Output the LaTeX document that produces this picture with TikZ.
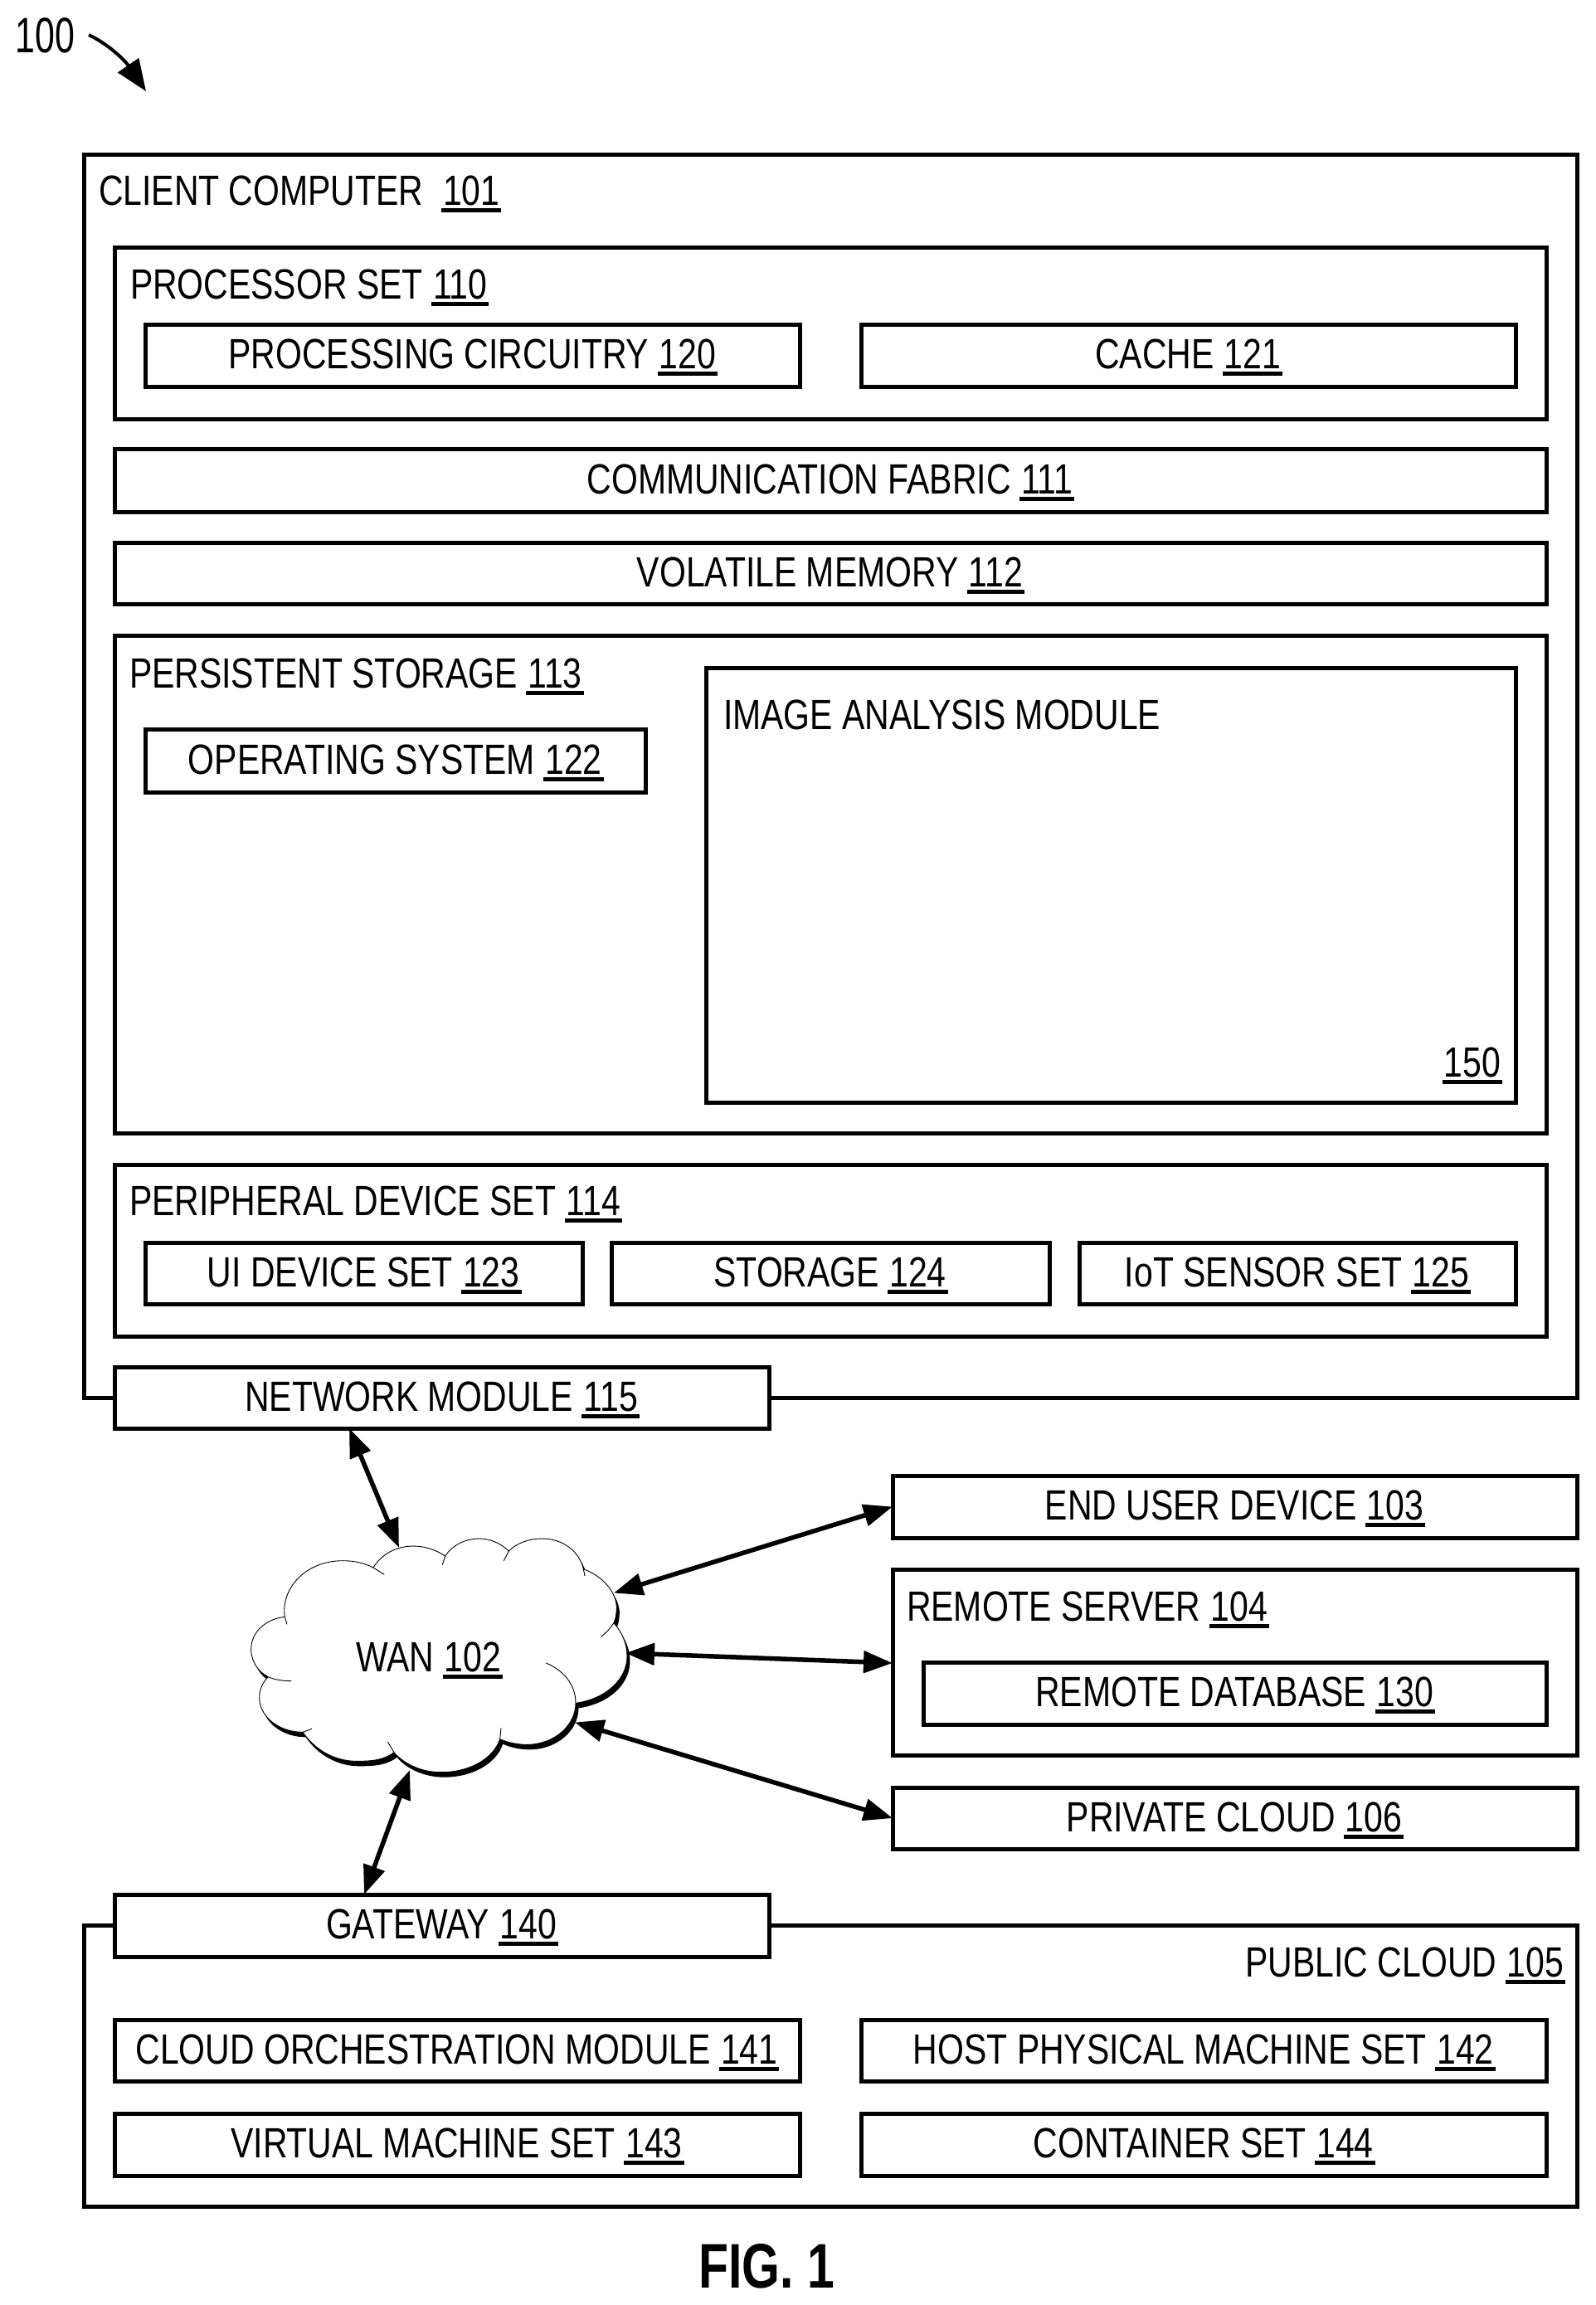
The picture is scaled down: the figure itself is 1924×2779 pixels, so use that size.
\documentclass[tikz,border=0pt]{standalone}
\usepackage{fontspec}
\setmainfont[FakeStretch=0.803]{Liberation Sans}
\newfontfamily\figfont[FakeStretch=0.775]{Liberation Sans}
\usetikzlibrary{arrows.meta}
\newcommand{\ulnum}[1]{\setbox0\hbox{#1}\kern1pt\rlap{\kern-2pt\rule[-8.5pt]{\dimexpr\wd0+4pt\relax}{5pt}}\box0\kern1pt}
\newcommand{\bx}[7][]{%
  \pgfmathsetmacro\bxw{#5-#3}\pgfmathsetmacro\bxh{#6-#4}%
  \node[boxnode,minimum width=\bxw pt,minimum height=\bxh pt,#1] (#2) at (#3,#4) {#7};}
\tikzset{
  every node/.style={font=\fontsize{51}{60}\selectfont,text=black},
  boxnode/.style={draw=black,fill=white,line width=5pt,anchor=north west,inner sep=0pt,outer sep=0pt,
    text height=36pt,text depth=4pt},
  lbl/.style={anchor=base west,inner sep=0pt,outer sep=0pt},
  lblr/.style={anchor=base east,inner sep=0pt,outer sep=0pt},
  dbl/.style={line width=5.5pt,{Triangle[length=35pt,width=26pt]}-{Triangle[length=35pt,width=26pt]}},
  refarrow/.style={line width=4pt,-{Triangle[length=38pt,width=30pt]}},
  cloudmap/.style={xshift=290pt,yshift=-1840pt,x=0.33333pt,y=-0.33333pt},
}
\newcommand{\cloudpath}{(160,328) .. controls (145,230) and (230,125) .. (370,125) .. controls (415,125) and (450,135) .. (480,150)
 .. controls (510,100) and (565,72) .. (625,72) .. controls (670,72) and (710,88) .. (740,108)
 .. controls (765,70) and (810,45) .. (865,45) .. controls (905,45) and (945,65) .. (970,90)
 .. controls (1000,60) and (1045,45) .. (1090,45) .. controls (1165,45) and (1225,90) .. (1240,155)
 .. controls (1310,180) and (1360,240) .. (1360,295) .. controls (1360,315) and (1357,335) .. (1350,350)
 .. controls (1380,385) and (1398,425) .. (1398,470) .. controls (1398,555) and (1320,625) .. (1212,640)
 .. controls (1212,720) and (1135,790) .. (1035,790) .. controls (1000,790) and (965,782) .. (938,770)
 .. controls (915,840) and (830,890) .. (725,890) .. controls (655,890) and (590,860) .. (555,818)
 .. controls (520,845) and (480,850) .. (420,850) .. controls (340,850) and (270,810) .. (225,745)
 .. controls (140,745) and (68,690) .. (68,620) .. controls (68,590) and (80,565) .. (100,545)
 .. controls (60,525) and (38,485) .. (38,445) .. controls (38,385) and (90,335) .. (160,328) -- cycle}
\begin{document}
\begin{tikzpicture}[x=1pt,y=-1pt]
\useasboundingbox (0,0) rectangle (1924,2779);
% reference numeral
\node[lbl,font=\fontsize{60}{70}\selectfont] (n100) at (19,63) {\scalebox{0.89}[1]{100}};
\coordinate (a100s) at (107,42);
\coordinate (a100e) at (176,110);
\draw[refarrow] (a100s) .. controls (130,53) and (150,72) .. (a100e);
% client computer
\bx{client}{101}{186}{1901}{1685}{}
\node[lbl] (clientl) at (119,247) {CLIENT COMPUTER\ \ \ulnum{101}};
\bx{procset}{138}{298}{1864}{505}{}
\node[lbl] (procl) at (157,360) {PROCESSOR SET \ulnum{110}};
\bx{circ}{175.5}{391}{964}{466}{PROCESSING CIRCUITRY \ulnum{120}}
\bx{cache}{1038.5}{391}{1827}{466}{CACHE \ulnum{121}}
\bx{fabric}{138}{541}{1864}{617}{COMMUNICATION FABRIC \ulnum{111}}
\bx{volmem}{138}{654}{1864}{728}{VOLATILE MEMORY \ulnum{112}}
\bx{persist}{138}{766}{1864}{1366}{}
\node[lbl] (persistl) at (156,829) {PERSISTENT STORAGE \ulnum{113}};
\bx{opsys}{175.5}{879}{778}{955}{OPERATING SYSTEM \ulnum{122}}
\bx{image}{851}{805}{1827}{1329}{}
\node[lbl] (imagel) at (872,879) {IMAGE ANALYSIS MODULE};
\node[lblr] (imagen) at (1810,1298) {\ulnum{150}};
\bx{periph}{138}{1404}{1864}{1611}{}
\node[lbl] (periphl) at (156,1465) {PERIPHERAL DEVICE SET \ulnum{114}};
\bx{uidev}{175.5}{1498}{702}{1572}{UI DEVICE SET \ulnum{123}}
\bx{stor}{737}{1498}{1265}{1572}{STORAGE \ulnum{124}}
\bx{iot}{1301}{1498}{1827}{1572}{IoT SENSOR SET \ulnum{125}}
\bx{network}{138}{1648}{927}{1722}{NETWORK MODULE \ulnum{115}}
% right column
\bx{enduser}{1076}{1779}{1901}{1854}{END USER DEVICE \ulnum{103}}
\bx{rserver}{1076}{1892}{1901}{2116}{}
\node[lbl] (rserverl) at (1093,1954) {REMOTE SERVER \ulnum{104}};
\bx{rdb}{1113}{2004}{1864}{2079}{REMOTE DATABASE \ulnum{130}}
\bx{private}{1076}{2155}{1901}{2229}{PRIVATE CLOUD \ulnum{106}}
% public cloud
\bx{public}{101}{2321}{1901}{2660}{}
\node[lblr] (publicl) at (1886,2383) {PUBLIC CLOUD \ulnum{105}};
\bx{gateway}{138}{2284}{927}{2359}{GATEWAY \ulnum{140}}
\bx{orch}{138}{2435}{964}{2509}{CLOUD ORCHESTRATION MODULE \ulnum{141}}
\bx{host}{1038.5}{2435}{1864}{2509}{HOST PHYSICAL MACHINE SET \ulnum{142}}
\bx{vm}{138}{2548}{964}{2623}{VIRTUAL MACHINE SET \ulnum{143}}
\bx{contain}{1038.5}{2548}{1864}{2623}{CONTAINER SET \ulnum{144}}
% WAN cloud
\begin{scope}[cloudmap]
\fill[black,shift={(10.5,18)}] \cloudpath;
\filldraw[fill=white,draw=black,line width=0.9pt] \cloudpath;
\draw[line width=0.9pt] (160,328) -- (168,355);
\draw[line width=0.9pt] (480,150) -- (520,175);
\draw[line width=0.9pt] (740,108) -- (730,140);
\draw[line width=0.9pt] (970,90) -- (952,125);
\draw[line width=0.9pt] (1240,155) -- (1245,180);
\draw[line width=0.9pt] (1350,350) .. controls (1335,372) and (1320,388) .. (1303,400);
\draw[line width=0.9pt] (1212,640) .. controls (1212,570) and (1165,520) .. (1105,495);
\draw[line width=0.9pt] (938,770) -- (942,730);
\draw[line width=0.9pt] (555,818) -- (532,780);
\draw[line width=0.9pt] (225,745) -- (258,733);
\draw[line width=0.9pt] (100,545) .. controls (125,556) and (155,560) .. (183,560);
\end{scope}
\node[anchor=base,inner sep=0pt,outer sep=0pt] (wan) at (517,2015) {WAN \ulnum{102}};
\coordinate (wanN) at (481,1866);
\coordinate (wanE1) at (740,1920.5);
\coordinate (wanE2) at (754,1993);
\coordinate (wanE3) at (693,2076.5);
\coordinate (wanS) at (494,2134);
% connectors
\draw[dbl] ([xshift=-111.5pt]network.south) -- (wanN);
\draw[dbl] (wanE1) -- (enduser.west);
\draw[dbl] (wanE2) -- ([yshift=-1pt]rserver.west);
\draw[dbl] (wanE3) -- (private.west);
\draw[dbl] (wanS) -- ([xshift=-93.5pt]gateway.north);
% figure title
\node[anchor=base,inner sep=0pt,outer sep=0pt,font=\figfont\bfseries\fontsize{76}{80}\selectfont] (fig) at (924,2758) {FIG. 1};
\end{tikzpicture}
\end{document}
